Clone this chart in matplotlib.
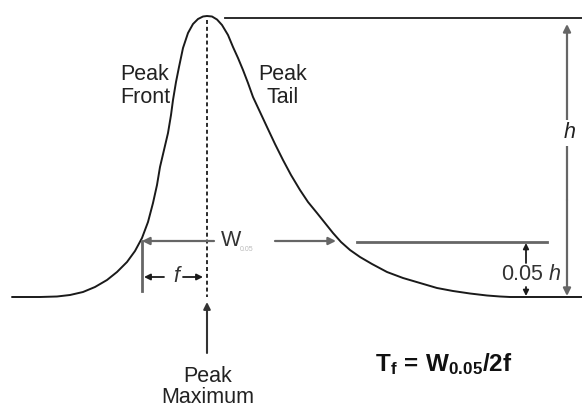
import matplotlib
matplotlib.use('Agg')
import matplotlib.pyplot as plt

plt.rcParams['font.family'] = ['Liberation Sans', 'DejaVu Sans']
plt.rcParams['mathtext.fontset'] = 'custom'
plt.rcParams['mathtext.rm'] = 'Liberation Sans'
plt.rcParams['mathtext.it'] = 'Liberation Sans:italic'
plt.rcParams['mathtext.bf'] = 'Liberation Sans:bold'

# peak profile (pixel units, y grows downward)
curve_x = [12, 40, 57, 70, 83, 95, 107, 117, 127, 135, 142, 148, 153, 157, 160, 164,
           168, 171, 173, 176, 179, 183, 188, 193, 198, 203, 207, 212, 217, 222, 228,
           233, 238, 243, 248, 253, 260, 267, 275, 283, 291, 300, 308, 317, 325, 333,
           341, 350, 360, 372, 387, 403, 420, 437, 453, 470, 487, 500, 510, 582]
curve_y = [297, 297, 296.5, 295, 292, 287, 280, 272, 262, 251, 238, 222, 203, 185, 167, 150,
           133, 115, 100, 82, 67, 48, 33, 24, 19, 16.5, 16, 16.5, 19.5, 25, 35,
           47, 58, 70, 83, 97, 112, 127, 144, 160, 175, 190, 202, 213, 223, 233,
           242, 250, 257, 264, 272, 278, 283, 288, 291, 293.5, 295.5, 296.5, 297, 297]

baseline_y = 297
peak_x = 207
top_y = 18
w_y = 241
w_left, w_right = 142, 336
ref_y = 242
ref_x = [357, 547]
h_x = 567
f_y = 277

ink = '#1a1a1a'
grey = '#666666'

fig = plt.figure(figsize=(5.82, 4.12), dpi=100)
ax = fig.add_axes([0, 0, 1, 1])
ax.set_xlim(0, 582)
ax.set_ylim(412, 0)
ax.axis('off')

ax.plot(curve_x, curve_y, color=ink, lw=1.4, solid_capstyle='round')
ax.plot([peak_x, peak_x], [top_y + 2, baseline_y], color=ink, lw=1.3, dashes=(2.2, 1.6))
ax.plot([225, 582], [top_y, top_y], color=ink, lw=1.3)
ax.plot(ref_x, [ref_y, ref_y], color=grey, lw=2)
ax.plot([w_left, w_left], [w_y, 291], color=grey, lw=2)


def arrow(x0, y0, x1, y1, col=grey, lw=1.6, ms=11):
    ax.annotate('', xy=(x1, y1), xytext=(x0, y0),
                arrowprops=dict(arrowstyle='-|>', color=col, lw=lw,
                                shrinkA=0, shrinkB=0, mutation_scale=ms))


# W(0.05) width arrows
arrow(214, w_y, w_left, w_y)
arrow(275, w_y, w_right, w_y)
ax.text(221, w_y - 1, 'W', fontsize=15.5, color='#333333', ha='left', va='center')
ax.text(240, w_y + 8, '0.05', fontsize=5, color='#bbbbbb', ha='left', va='center')

# f arrows
arrow(164, f_y, 144, f_y, col=ink, lw=1.3, ms=9)
arrow(183, f_y, 203, f_y, col=ink, lw=1.3, ms=9)
ax.text(176, f_y, 'f', fontsize=15.5, style='italic', color='#333333', ha='center', va='center')

# h arrow
arrow(h_x, 200, h_x, top_y + 6)
arrow(h_x, 200, h_x, baseline_y - 1)
ax.text(h_x + 3, 133, 'h', fontsize=15.5, style='italic', color='#222222', ha='center', va='center',
        bbox=dict(boxstyle='square,pad=0.1', fc='white', ec='none'))

# 0.05 h arrows
arrow(526, 263, 526, ref_y + 1, col=ink, lw=1.3, ms=8)
arrow(526, 287, 526, baseline_y - 1, col=ink, lw=1.3, ms=8)
ax.text(531, 275, '0.05 $h$', fontsize=15.5, color='#333333', ha='center', va='center')

# peak maximum arrow
arrow(peak_x, 353, peak_x, 302, col='#333333', lw=1.5, ms=10)

ax.text(145, 86, 'Peak\nFront', fontsize=15.5, color='#222222', ha='center', va='center',
        linespacing=1.15)
ax.text(283, 86, 'Peak\nTail', fontsize=15.5, color='#222222', ha='center', va='center',
        linespacing=1.15)
ax.text(208, 387, 'Peak\nMaximum', fontsize=15.5, color='#222222', ha='center', va='center',
        linespacing=1.05)

ax.text(375, 371, r'$\mathbf{T_f\,=\,W_{0.05}/2f}$', fontsize=17.5, color='#111111',
        ha='left', va='baseline')

fig.savefig('out.png', dpi=100)
